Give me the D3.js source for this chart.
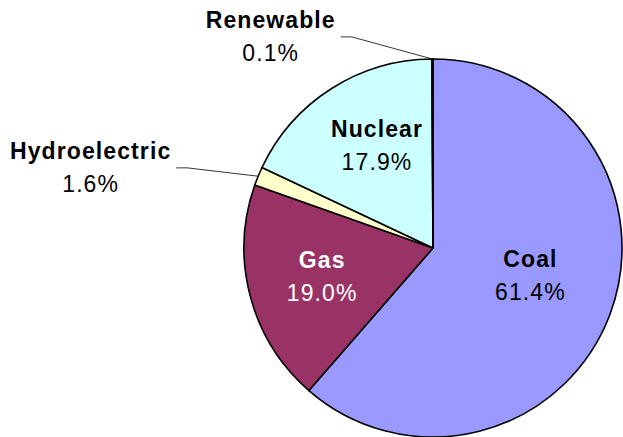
<!DOCTYPE html>
<html>
<head>
<meta charset="utf-8">
<script src="https://cdn.jsdelivr.net/npm/d3@7"></script>
<style>
  body { margin: 0; background: #fff; }
  svg { display: block; }
  text { font-family: Arial, "Liberation Sans", sans-serif; font-size: 23px; letter-spacing: 1.1px; }
</style>
</head>
<body>
<svg id="chart"></svg>
<script>
// data, in drawing order (clockwise from 12 o'clock)
var sources = ["Coal", "Gas", "Hydroelectric", "Nuclear", "Renewable"]
var shares = [61.4, 19.0, 1.6, 17.9, 0.1]
var colors = ["#9999ff", "#993366", "#ffffcc", "#ccffff", "#660066"]
var textColors = ["#000", "#fff", "#000", "#000", "#000"]
var outside = ["Hydroelectric", "Renewable"]

var width = 623, height = 437
var cx = 433, cy = 248, radius = 189

// small hand nudges for the inside labels (px), like the dragged labels in the original
var nudge = { "Coal": [-7, -12], "Gas": [-3, 0], "Nuclear": [4, -9] }

var svg = d3.select("#chart")
    .attr("width", width)
    .attr("height", height)

var g = svg.append("g")
    .attr("transform", "translate(" + cx + "," + cy + ")")

var pie = d3.pie().sort(null).value(function (d, i) { return shares[i] })
var arcs = pie(sources)

var arc = d3.arc().innerRadius(0).outerRadius(radius)
var labelArc = d3.arc().innerRadius(radius * 0.59).outerRadius(radius * 0.59)
var edgeArc = d3.arc().innerRadius(radius).outerRadius(radius)

g.selectAll("path.slice")
  .data(arcs)
  .enter().append("path")
  .attr("class", "slice")
  .attr("d", arc)
  .attr("fill", function (d, i) { return colors[i] })
  .attr("stroke", "#000")
  .attr("stroke-width", 1.6)
  .attr("stroke-linejoin", "round")

// labels inside the big slices
var inner = arcs.filter(function (d) { return outside.indexOf(d.data) < 0 })
inner.forEach(function (d) {
  var p = labelArc.centroid(d)
  var n = nudge[d.data] || [0, 0]
  var x = p[0] + n[0], y = p[1] + n[1]
  var i = d.index
  var t = g.append("text")
    .attr("text-anchor", "middle")
    .attr("fill", textColors[i])
  t.append("tspan")
    .attr("x", x).attr("y", y - 8)
    .attr("font-weight", "bold")
    .text(d.data)
  t.append("tspan")
    .attr("x", x).attr("y", y + 25)
    .text(shares[i].toFixed(1) + "%")
})

// callouts for the thin slices: elbow given relative to the radius
var elbow = {
  "Renewable": [-0.43, -1.117],
  "Hydroelectric": [-1.30, -0.424]
}
arcs.filter(function (d) { return outside.indexOf(d.data) >= 0 }).forEach(function (d) {
  var i = d.index
  var e = edgeArc.centroid(d)
  var k = [elbow[d.data][0] * radius, elbow[d.data][1] * radius]
  var tail = [k[0] - 11, k[1]]
  g.append("polyline")
    .attr("points", [e, k, tail].map(function (p) { return p.join(",") }).join(" "))
    .attr("fill", "none")
    .attr("stroke", "#000")
    .attr("stroke-width", 0.8)

  var t = g.append("text")
    .attr("text-anchor", "middle")
    .attr("fill", textColors[i])
  var name = t.append("tspan")
    .attr("y", tail[1] - 9)
    .attr("font-weight", "bold")
    .text(d.data)
  var w = name.node().getComputedTextLength()
  var mid = tail[0] - 5 - w / 2
  name.attr("x", mid)
  t.append("tspan")
    .attr("x", mid).attr("y", tail[1] + 24)
    .text(shares[i].toFixed(1) + "%")
})
</script>
</body>
</html>
